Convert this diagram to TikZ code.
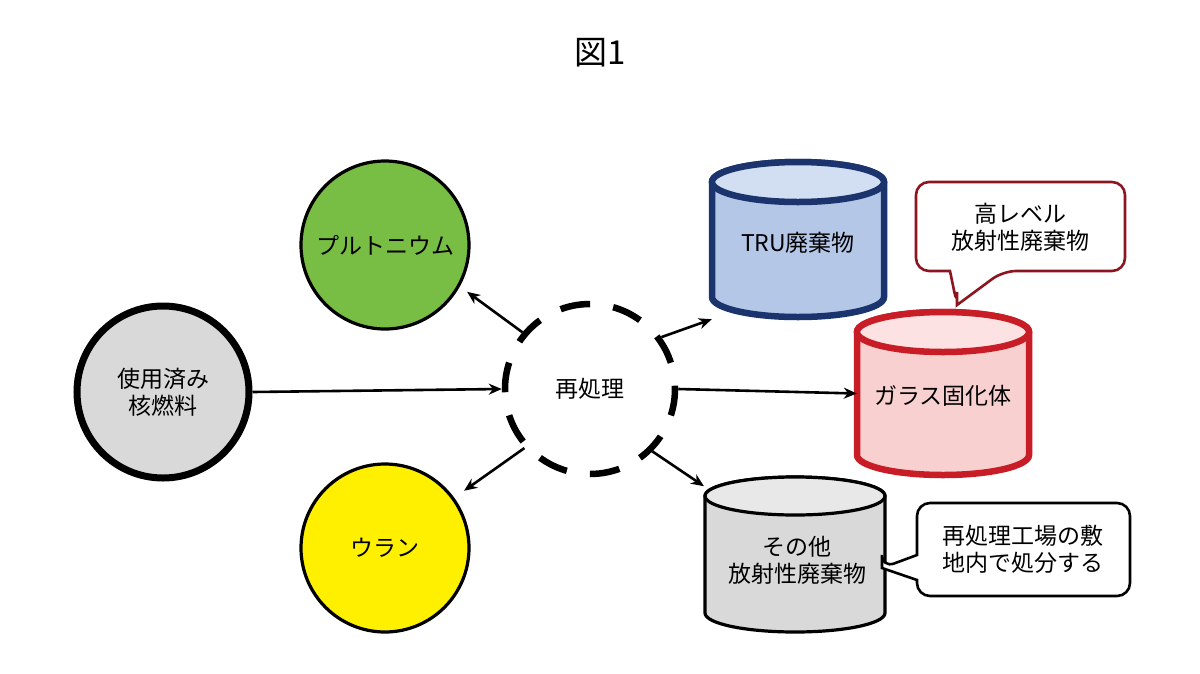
\documentclass[tikz,border=0pt]{standalone}
\usepackage{fontspec}
\setmainfont{Noto Sans CJK JP}
\usetikzlibrary{arrows.meta}
\definecolor{cgreen}{RGB}{120,190,68}
\definecolor{cyellow}{RGB}{255,240,0}
\definecolor{cgray}{RGB}{217,217,217}
\definecolor{cgraytop}{RGB}{232,232,232}
\definecolor{ctru}{RGB}{180,199,231}
\definecolor{ctrutop}{RGB}{210,222,242}
\definecolor{ctrudraw}{RGB}{28,52,110}
\definecolor{cglass}{RGB}{248,208,208}
\definecolor{cglasstop}{RGB}{252,226,226}
\definecolor{cglassdraw}{RGB}{200,28,38}
\definecolor{ccall}{RGB}{140,22,32}
\tikzset{
  lbl/.style={font=\fontsize{23}{27}\selectfont, align=center, inner sep=0pt},
  ball/.style={circle, draw=black, line width=3.2pt, minimum size=168pt, inner sep=0pt, font=\fontsize{23}{27}\selectfont, align=center},
  conn/.style={line width=2.6pt, -{Stealth[length=13pt,width=11pt]}},
  callout/.style={line width=2.6pt, rounded corners=13pt, fill=white},
  cylbox/.style={inner sep=0pt, draw=none},
  trubody/.style={fill=ctru, draw=ctrudraw, line width=6.5pt},
  trutop/.style={fill=ctrutop, draw=ctrudraw, line width=6.5pt},
  glassbody/.style={fill=cglass, draw=cglassdraw, line width=6.5pt},
  glasstop/.style={fill=cglasstop, draw=cglassdraw, line width=6.5pt},
  otherbody/.style={fill=cgray, draw=black, line width=3.2pt},
  othertop/.style={fill=cgraytop, draw=black, line width=3.2pt},
}
% \mycyl{name}{cx}{ytop}{ybot}{halfw}{ry}{bodystyle}{topstyle}
\newcommand{\mycyl}[8]{%
  \path[#7]
    (#2-#5,#3) -- (#2-#5,#4) arc[start angle=180, end angle=0, x radius=#5, y radius=#6]
    -- (#2+#5,#3) arc[start angle=0, end angle=-180, x radius=#5, y radius=#6] -- cycle;
  \path[#8] (#2,#3) ellipse[x radius=#5, y radius=#6];
  \node[cylbox, minimum width=2*#5 pt, minimum height={(#4-#3+2*#6)*1pt}] (#1) at (#2,{(#3+#4)/2}) {};
}
\begin{document}
\begin{tikzpicture}[x=1pt, y=-1pt]
\useasboundingbox[fill=white] (0,0) rectangle (1200,673);

\node[font=\fontsize{33}{36}\selectfont, inner sep=0pt] (title) at (600,53) {図1};

% circles
\node[ball, fill=cgreen] (pu) at (385,245) {プルトニウム};
\node[ball, fill=cyellow] (u) at (385,548) {ウラン};
\node[ball, fill=cgray, line width=7pt, minimum size=172pt] (spent) at (163,392) {使用済み\\核燃料};
\node[circle, draw=black, line width=6.5pt, minimum size=170pt, dash pattern=on 30pt off 23.4pt, dash phase=26.7pt, font=\fontsize{23}{27}\selectfont] (rep) at (590,389) {再処理};

% cylinders
\mycyl{tru}{798}{182}{297}{86}{20}{trubody}{trutop}
\node[lbl] (trut) at (798,243) {TRU廃棄物};
\mycyl{glass}{943}{332}{455}{86}{20}{glassbody}{glasstop}
\node[lbl] (glasst) at (943,396) {ガラス固化体};
\mycyl{other}{795}{496}{613}{90}{19}{otherbody}{othertop}
\node[lbl] (othert) at (797,560) {その他\\放射性廃棄物};

% callouts
\coordinate (hlwtip) at (957,305);
\draw[callout, draw=ccall] (hlwtip) {[sharp corners] -- (950,271)} -- (916,271) -- (916,182) -- (1125,182) -- (1125,271) -- (1003,271) {[sharp corners] -- (hlwtip)} -- cycle;
\node[lbl] (hlw) at (1020,227) {高レベル\\放射性廃棄物};

\coordinate (onsitetip) at (882,568);
\draw[callout, draw=black] (onsitetip) {[sharp corners] -- (917,555)} -- (917,503) -- (1130,503) -- (1130,596) -- (917,596) {[sharp corners] -- (917,580) -- (onsitetip)} -- cycle;
\node[lbl] (onsite) at (1023,549) {再処理工場の敷\\地内で処分する};

% connectors
\draw[conn] (spent.east) -- (rep.west);
\draw[conn, shorten >=9pt] (rep.140) -- (pu.-29);
\draw[conn, shorten >=12pt] (rep.222) -- (u.36);
\draw[conn] (rep.36) -- ([yshift=-2pt]tru.south west);
\draw[conn] (rep.east) -- (glass.west);
\draw[conn, shorten >=1pt] (rep.-45) -- ([yshift=-10pt]other.north west);
\end{tikzpicture}
\end{document}
